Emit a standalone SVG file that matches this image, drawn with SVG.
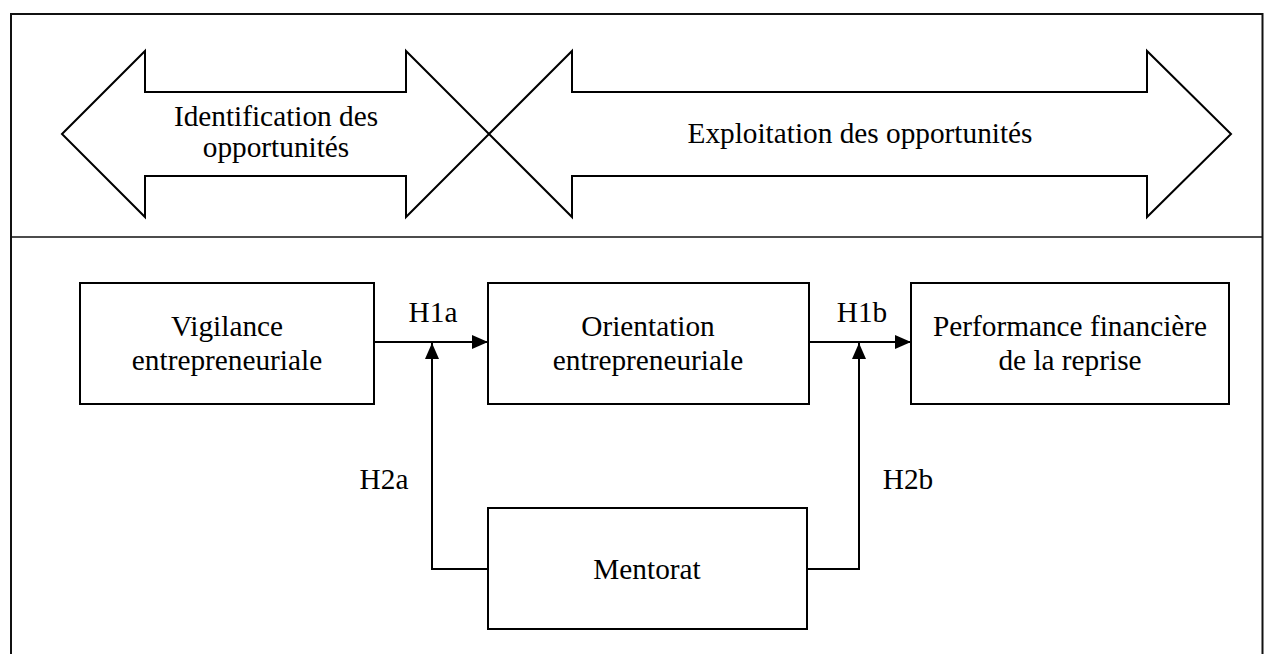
<svg xmlns="http://www.w3.org/2000/svg" width="1264" height="654" viewBox="0 0 1264 654">
<defs>
<style>
.t{font-family:"Liberation Serif","Times New Roman",serif;font-size:29.3px;fill:#000;text-anchor:middle}
.box{fill:#fff;stroke:#000;stroke-width:2}
.ln{fill:none;stroke:#000;stroke-width:2}
.frame{fill:none;stroke:#111;stroke-width:2}
</style>
<marker id="ah" markerWidth="16" markerHeight="14" refX="16" refY="7" orient="auto" markerUnits="userSpaceOnUse">
<path d="M0,0 L16,7 L0,14 Z" fill="#000"/>
</marker>
</defs>
<rect width="1264" height="654" fill="#fff"/>
<g id="frame">
<path class="frame" d="M11,660 V14 H1262.5 V660"/>
<line x1="11" y1="237" x2="1262.5" y2="237" stroke="#111" stroke-width="1.5"/>
</g>
<g id="arrow-identification">
<polygon class="box" points="62,134 145,51 145,92 406,92 406,51 489,134 406,217 406,176 145,176 145,217"/>
<text class="t" x="276" y="126">Identification des</text>
<text class="t" x="276" y="157">opportunités</text>
</g>
<g id="arrow-exploitation">
<polygon class="box" points="489,134 572,51 572,92 1147,92 1147,51 1231,134 1147,217 1147,176 572,176 572,217"/>
<text class="t" x="860" y="143">Exploitation des opportunités</text>
</g>
<g id="connectors">
<line class="ln" x1="374" y1="342" x2="488" y2="342" marker-end="url(#ah)"/>
<line class="ln" x1="809" y1="342" x2="911" y2="342" marker-end="url(#ah)"/>
<polyline class="ln" points="488,569 432,569 432,343" marker-end="url(#ah)"/>
<polyline class="ln" points="807,569 859,569 859,343" marker-end="url(#ah)"/>
<text class="t" x="433" y="322">H1a</text>
<text class="t" x="862" y="322">H1b</text>
<text class="t" x="384" y="489">H2a</text>
<text class="t" x="908" y="489">H2b</text>
</g>
<g id="vigilance">
<rect class="box" x="80" y="283" width="294" height="121"/>
<text class="t" x="227" y="336">Vigilance</text>
<text class="t" x="227" y="370">entrepreneuriale</text>
</g>
<g id="orientation">
<rect class="box" x="488" y="283" width="321" height="121"/>
<text class="t" x="648" y="336">Orientation</text>
<text class="t" x="648" y="370">entrepreneuriale</text>
</g>
<g id="performance">
<rect class="box" x="911" y="283" width="318" height="121"/>
<text class="t" x="1070" y="336">Performance financière</text>
<text class="t" x="1070" y="370">de la reprise</text>
</g>
<g id="mentorat">
<rect class="box" x="488" y="508" width="319" height="121"/>
<text class="t" x="647" y="579">Mentorat</text>
</g>
</svg>
